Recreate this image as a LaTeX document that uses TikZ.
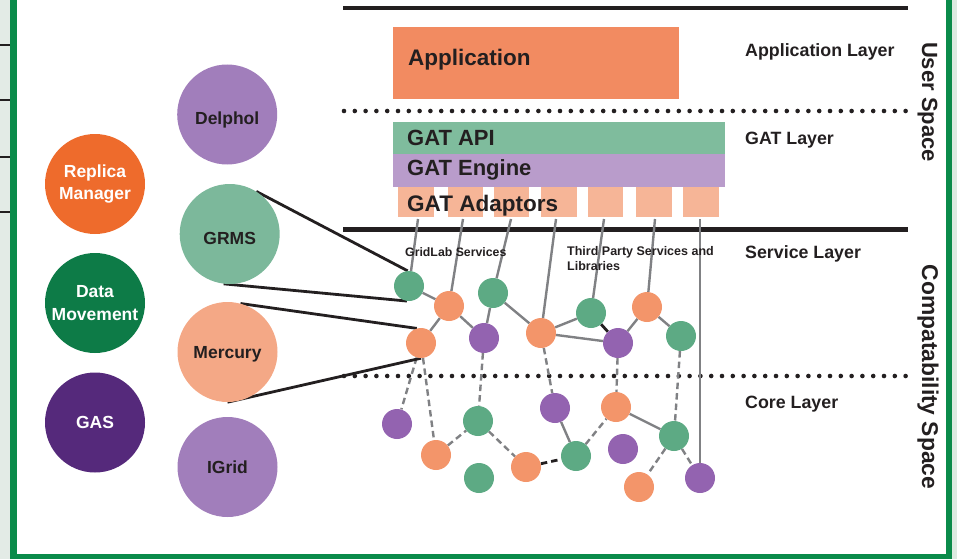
\documentclass[tikz,border=0pt]{standalone}
\usepackage{fontspec}
\setmainfont{Liberation Sans}
\definecolor{txt}{HTML}{231F20}
\definecolor{appor}{HTML}{F28B61}
\definecolor{gatapi}{HTML}{7FBC9D}
\definecolor{gateng}{HTML}{B99CCB}
\definecolor{adapt}{HTML}{F6B597}
\definecolor{sgreen}{HTML}{5DAA84}
\definecolor{sorange}{HTML}{F3956A}
\definecolor{spurple}{HTML}{9363B0}
\definecolor{lpurple}{HTML}{A17EBB}
\definecolor{grmsc}{HTML}{7CB89B}
\definecolor{mercc}{HTML}{F4A886}
\definecolor{replc}{HTML}{EE6B2C}
\definecolor{datac}{HTML}{0D7B47}
\definecolor{gasc}{HTML}{55297B}
\definecolor{borderc}{HTML}{0A8B4A}
\definecolor{stripc}{HTML}{E3EBE6}
\definecolor{strip2c}{HTML}{DCEAE1}
\definecolor{glinec}{HTML}{808184}
\pgfdeclarelayer{bg}
\pgfsetlayers{bg,main}
\tikzset{
  bigc/.style={circle, minimum size=100pt, inner sep=0pt, align=center,
    font=\bfseries\fontsize{17.5}{22.5}\selectfont, text=txt},
  capc/.style={text height=12.6pt, text depth=0pt},
  capl/.style={text height=20.6pt, text depth=0pt},
  smc/.style={circle, minimum size=30pt, inner sep=0pt},
  gn/.style={smc, fill=sgreen},
  on/.style={smc, fill=sorange},
  pn/.style={smc, fill=spurple},
  gl/.style={draw=glinec, line width=2.4pt},
  gd/.style={gl, dash pattern=on 6.5pt off 4pt},
  bl/.style={draw=txt, line width=2.8pt},
  boxn/.style={rectangle, inner sep=0pt, draw=none},
  boxt/.style={anchor=base west, inner sep=0pt, text=txt,
    font=\bfseries\fontsize{22.5}{26}\selectfont},
  laylbl/.style={anchor=base west, inner sep=0pt, text=txt,
    font=\bfseries\fontsize{17.8}{21}\selectfont},
  smalllbl/.style={anchor=base west, inner sep=0pt, text=txt,
    font=\bfseries\fontsize{12.5}{15}\selectfont},
  spacelbl/.style={anchor=base, inner sep=0pt, text=txt, rotate=-90,
    font=\bfseries\fontsize{22}{26}\selectfont},
  solidlayer/.style={draw=txt, line width=4.8pt},
  dotlayer/.style={draw=txt, line width=4.6pt, line cap=round, dash pattern=on 0pt off 10.8pt}
}
\begin{document}
\begin{tikzpicture}[x=1pt,y=-1pt]
\useasboundingbox (0,0) rectangle (957,559);

% ---- boxes of the GAT stack
\node[boxn, fill=appor, minimum width=286pt, minimum height=72pt] (app) at (536,63) {};
\node[boxn, fill=gatapi, minimum width=332pt, minimum height=32pt] (api) at (559,138) {};
\node[boxn, fill=gateng, minimum width=332pt, minimum height=33pt] (eng) at (559,170.5) {};
\foreach \i/\x in {1/416,2/465.5,3/511.5,4/559,5/605.5,6/654,7/701}{
  \node[boxn, fill=adapt, minimum width=35.5pt, minimum height=30pt] (ad\i) at (\x,202) {};
}
\node[boxt] (apptxt) at (408,65.5) {Application};
\node[boxt, font=\bfseries\fontsize{22}{26}\selectfont] (apitxt) at (407,145) {GAT API};
\node[boxt, font=\bfseries\fontsize{22}{26}\selectfont] (engtxt) at (407,175) {GAT Engine};
\node[boxt, font=\bfseries\fontsize{22.5}{26}\selectfont] (adtxt) at (407,211) {GAT Adaptors};

% ---- layer labels
\node[laylbl] (l1) at (745,57) {Application Layer};
\node[laylbl] (l2) at (745,144) {GAT Layer};
\node[laylbl] (l3) at (745,258) {Service Layer};
\node[laylbl] (l4) at (745,408) {Core Layer};
\node[spacelbl] (us) at (922,102) {User Space};
\node[spacelbl, font=\bfseries\fontsize{22.8}{26}\selectfont] (cs) at (922,377) {Compatability Space};
\node[smalllbl, font=\bfseries\fontsize{12.3}{15}\selectfont] (gls) at (405,256.5) {GridLab Services};
\node[smalllbl] (tp1) at (567,255) {Third Party Services and};
\node[smalllbl] (tp2) at (567,270) {Libraries};

% ---- big circles
\node[bigc, capl, fill=lpurple] (delphol) at (227.2,114.5) {Delphol};
\node[bigc, capl, fill=grmsc] (grms) at (229.7,234) {GRMS};
\node[bigc, capc, fill=mercc] (merc) at (227.5,352) {Mercury};
\node[bigc, capc, fill=lpurple] (igrid) at (227.5,467) {IGrid};
\node[bigc, fill=replc, text=white] (repl) at (95,184) {Replica\\Manager};
\node[bigc, fill=datac, text=white] (datam) at (95,303) {Data\\Movement};
\node[bigc, capc, fill=gasc, text=white] (gas) at (95,422.5) {GAS};

% ---- small nodes: service layer
\node[gn] (A) at (409,286) {};
\node[on] (B) at (449,306) {};
\node[gn] (C) at (493,293) {};
\node[pn] (D) at (484,338) {};
\node[on] (E) at (421,343) {};
\node[on] (F) at (541,333) {};
\node[gn] (G) at (591,313) {};
\node[pn] (H) at (618,343) {};
\node[on] (I) at (647,307) {};
\node[gn] (J) at (681,336) {};
% ---- small nodes: core layer
\node[pn] (K) at (397,424) {};
\node[on] (L) at (436,455) {};
\node[gn] (M) at (478,421) {};
\node[gn] (N) at (479,478) {};
\node[on] (O) at (526,467) {};
\node[pn] (P) at (555,408) {};
\node[gn] (Q) at (576,456) {};
\node[on] (R) at (616,407) {};
\node[pn] (S) at (623,449) {};
\node[gn] (T) at (674,436) {};
\node[on] (U) at (639,487) {};
\node[pn] (V) at (700,478) {};

% ---- adaptor line starts
\coordinate (a1) at (418,219);
\coordinate (a2) at (463,219);
\coordinate (a3) at (511,219);
\coordinate (a4) at (556,219);
\coordinate (a5) at (604,219);
\coordinate (a6) at (655,219);
\coordinate (a7) at (700,219);

\begin{pgfonlayer}{bg}
  % frame
  \fill[stripc] (0,0) rectangle (10,559);
  \fill[strip2c] (952,0) rectangle (957,559);
  \foreach \yy in {45,100,157,212} \draw[txt, line width=1.5pt] (0,\yy) -- (10,\yy);
  \fill[borderc] (10,0) rectangle (17,559);
  \fill[borderc] (10,554) rectangle (952,559);
  \fill[borderc] (946,0) rectangle (952,559);
  % layer separators
  \draw[solidlayer] (343,8) -- (908,8);
  \draw[dotlayer] (344,111) -- (908,111);
  \draw[solidlayer] (343,229.5) -- (908,229.5);
  \draw[dotlayer] (344,376) -- (908,376);
  % adaptor links
  \draw[gl] (a1) -- (A);
  \draw[gl] (a2) -- (B);
  \draw[gl] (a3) -- (C);
  \draw[gl] (a4) -- (F);
  \draw[gl] (a5) -- (G);
  \draw[gl] (a6) -- (I);
  \draw[gl] (a7) -- (V);
  % service links
  \draw[gl] (A) -- (B);
  \draw[gl] (B) -- (E);
  \draw[gl] (B) -- (D);
  \draw[gl] (C) -- (D);
  \draw[gl] (C) -- (F);
  \draw[gl] (F) -- (G);
  \draw[gl] (F) -- (H);
  \draw[bl] (G) -- (H);
  \draw[gl] (H) -- (I);
  \draw[gl] (I) -- (J);
  % service to core
  \draw[gd] (E) -- (K);
  \draw[gd] (E) -- (L);
  \draw[gd] (D) -- (M);
  \draw[gd] (F) -- (P);
  \draw[gd] (H) -- (R);
  \draw[gd] (J) -- (T);
  % core links
  \draw[gd] (L) -- (M);
  \draw[gd] (M) -- (O);
  \draw[bl, dash pattern=on 6.5pt off 4pt] (O) -- (Q);
  \draw[gl] (P) -- (Q);
  \draw[gd] (Q) -- (R);
  \draw[gl] (R) -- (T);
  \draw[gd] (T) -- (U);
  \draw[gd] (T) -- (V);
  % left tools to services
  \draw[bl] (grms.58) -- (A.95);
  \draw[bl] (grms.263) -- (A.262);
  \draw[bl] (merc.75) -- (E.106);
  \draw[bl] (merc.270) -- (E.270);
\end{pgfonlayer}
\end{tikzpicture}
\end{document}
